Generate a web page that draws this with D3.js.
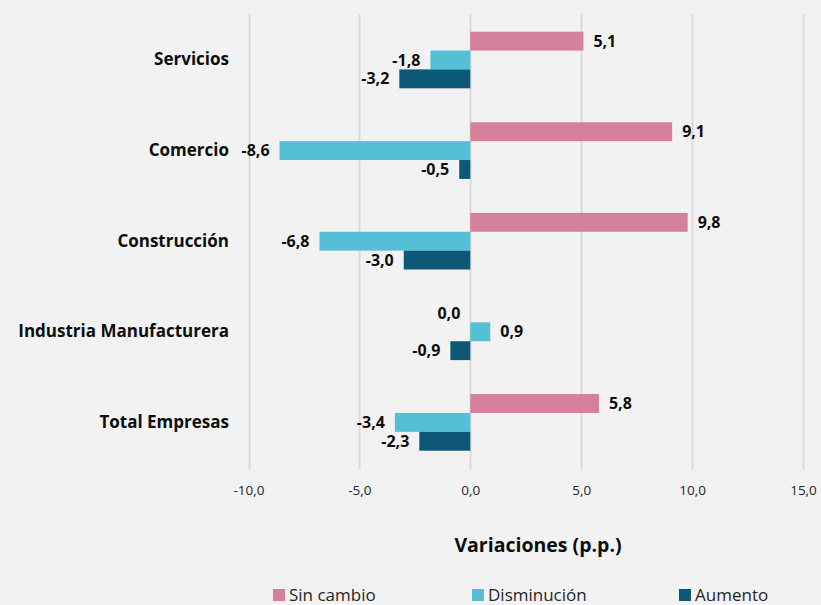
<!DOCTYPE html>
<html><head><meta charset="utf-8">
<script src="https://cdn.jsdelivr.net/npm/d3@7"></script>
<style>
html,body{margin:0;padding:0;background:#F2F2F2;}
svg{display:block;font-family:"Open Sans","Noto Sans",sans-serif;}
</style></head>
<body><svg id="c" width="821" height="605"></svg>
<script>
const categories = ["Servicios","Comercio","Construcción","Industria Manufacturera","Total Empresas"];
const seriesNames = ["Sin cambio","Disminución","Aumento"];
const sinCambio   = [5.1, 9.1, 9.8, 0.0, 5.8];
const disminucion = [-1.8, -8.6, -6.8, 0.9, -3.4];
const aumento     = [-3.2, -0.5, -3.0, -0.9, -2.3];
const tickValues  = [-10, -5, 0, 5, 10, 15];
const colors = ["#D4809A", "#55BFD6", "#0E5877"];
const axisTitle = "Variaciones (p.p.)";

const seriesData = [sinCambio, disminucion, aumento];
const svg = d3.select("#c");
const fmt = v => (v < 0 ? "-" : "") + Math.abs(v).toFixed(1).replace(".", ",");

const x = d3.scaleLinear().domain([-10, 15]).range([248.5, 803]);
const y = d3.scaleBand().domain(categories).range([14.7, 467.7]).paddingInner(0.375).paddingOuter(0.1875);
const yInner = d3.scaleBand().domain(seriesNames).range([0, y.bandwidth()]);

// gridlines
svg.append("g").selectAll("line").data(tickValues).join("line")
  .attr("x1", d => Math.round(x(d)) + 0.5).attr("x2", d => Math.round(x(d)) + 0.5)
  .attr("y1", 14).attr("y2", 469)
  .attr("stroke", "#D9D9D9").attr("stroke-width", 2);

// x axis tick labels
const xAxis = d3.axisBottom(x).tickValues(tickValues).tickSize(0).tickFormat(fmt);
const gx = svg.append("g").attr("transform", "translate(0,482)").call(xAxis);
gx.select(".domain").remove();
gx.selectAll("text").attr("font-size", 13.5).attr("fill", "#262626")
  .attr("font-family", "'Open Sans','Noto Sans',sans-serif");

// y axis labels
const yAxis = d3.axisLeft(y).tickSize(0).tickPadding(0);
const gy = svg.append("g").attr("transform", "translate(229,0)").call(yAxis);
gy.select(".domain").remove();
gy.selectAll("text").attr("font-size", 17).attr("font-weight", "bold").attr("fill", "#0D0D0D")
  .attr("font-family", "'Open Sans','Noto Sans',sans-serif");

// bars
const flat = [];
categories.forEach((c, i) => seriesNames.forEach((s, j) => flat.push({c, s, j, v: seriesData[j][i]})));

svg.append("g").selectAll("rect").data(flat).join("rect")
  .attr("x", d => x(Math.min(0, d.v)))
  .attr("width", d => Math.abs(x(d.v) - x(0)))
  .attr("y", d => y(d.c) + yInner(d.s))
  .attr("height", yInner.bandwidth())
  .attr("fill", d => colors[d.j]);

// value labels
svg.append("g").selectAll("text").data(flat).join("text")
  .attr("x", d => d.v > 0 ? x(d.v) + 10 : x(Math.min(d.v, 0)) - 10)
  .attr("y", d => y(d.c) + yInner(d.s) + yInner.bandwidth() / 2)
  .attr("dy", "0.35em")
  .attr("text-anchor", d => d.v > 0 ? "start" : "end")
  .attr("font-size", 16).attr("font-weight", "bold").attr("fill", "#0D0D0D")
  .text(d => fmt(d.v));

// axis title
svg.append("text").attr("x", 538).attr("y", 545).attr("dy", "0.35em")
  .attr("text-anchor", "middle").attr("font-size", 19.5).attr("font-weight", "bold").attr("fill", "#0D0D0D")
  .text(axisTitle);

// legend
const legendX = [273, 472, 679];
const lg = svg.append("g").selectAll("g").data(seriesNames).join("g")
  .attr("transform", (d, i) => `translate(${legendX[i]},589)`);
lg.append("rect").attr("width", 12).attr("height", 12).attr("fill", (d, i) => colors[i]);
lg.append("text").attr("x", 16).attr("y", 12)
  .attr("font-size", 17).attr("fill", "#262626").text(d => d);
</script></body></html>
